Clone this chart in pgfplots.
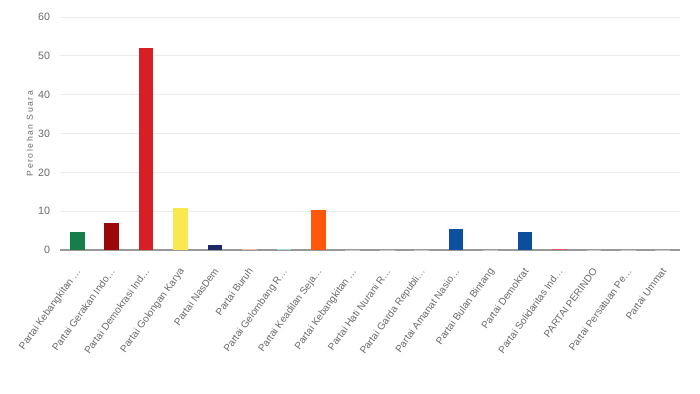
\documentclass[border=0pt]{standalone}
\usepackage{pgfplots}
\pgfplotsset{compat=1.18}
\usepackage{fontspec}
\setmainfont{Liberation Sans}
\definecolor{txt}{RGB}{105,105,105}
\definecolor{c1}{RGB}{22,125,75}
\definecolor{c2}{RGB}{155,8,10}
\definecolor{c3}{RGB}{214,32,38}
\definecolor{c4}{RGB}{250,232,80}
\definecolor{c5}{RGB}{30,40,105}
\definecolor{c6}{RGB}{240,190,165}
\definecolor{c7}{RGB}{160,220,222}
\definecolor{c8}{RGB}{255,88,10}
\definecolor{c9}{RGB}{200,200,200}
\definecolor{c12}{RGB}{14,80,160}
\definecolor{c14}{RGB}{12,77,158}
\definecolor{c15}{RGB}{225,85,95}
\newcommand{\el}{\char"2026}
\begin{document}
\begin{tikzpicture}
\begin{axis}[
  scale only axis,
  width=465pt, height=174.75pt,
  ybar, bar width=11pt, bar shift=0pt,
  xmin=-0.5, xmax=17.5, ymin=0, ymax=60,
  ytick={0,10,20,30,40,50,60},
  xtick={0,1,2,3,4,5,6,7,8,9,10,11,12,13,14,15,16,17},
  xticklabels={{Partai Kebangkitan \el},{Partai Gerakan Indo\el},{Partai Demokrasi Ind\el},{Partai Golongan Karya},{Partai NasDem},{Partai Buruh},{Partai Gelombang R\el},{Partai Keadilan Seja\el},{Partai Kebangkitan \el},{Partai Hati Nurani R\el},{Partai Garda Republi\el},{Partai Amanat Nasio\el},{Partai Bulan Bintang},{Partai Demokrat},{Partai Solidaritas Ind\el},{PARTAI PERINDO},{Partai Persatuan Pe\el},{Partai Ummat}},
  xticklabel style={xshift=-1.5pt, yshift=-12.5pt, rotate=54, anchor=north east, font=\fontsize{7.5}{9}\selectfont, text=txt, inner sep=0pt},
  yticklabel style={font=\fontsize{8}{9}\selectfont, text=txt, xshift=-4pt},
  /pgf/number format/assume math mode=true,
  major tick length=0pt,
  ymajorgrids, grid style={draw=black!8, line width=0.6pt},
  axis x line*=bottom, axis y line*=left,
  y axis line style={draw=none},
  x axis line style={draw=black!40, line width=1pt, -},
  ylabel={\addfontfeature{LetterSpace=18}Perolehan Suara},
  ylabel style={font=\fontsize{6.5}{8}\selectfont, text=txt, yshift=-3pt},
  every axis plot/.append style={draw=none},
  clip=false,
]
\addplot[fill=c1] coordinates {(0,4.6)};
\addplot[fill=c2] coordinates {(1,7.0)};
\addplot[fill=c3] coordinates {(2,52.1)};
\addplot[fill=c4] coordinates {(3,10.8)};
\addplot[fill=c5] coordinates {(4,1.3)};
\addplot[fill=c6] coordinates {(5,0.15)};
\addplot[fill=c7] coordinates {(6,0.25)};
\addplot[fill=c8] coordinates {(7,10.3)};
\addplot[fill=c9] coordinates {(8,0.05)};
\addplot[fill=c9] coordinates {(9,0.05)};
\addplot[fill=c9] coordinates {(10,0.05)};
\addplot[fill=c12] coordinates {(11,5.3)};
\addplot[fill=c9] coordinates {(12,0.05)};
\addplot[fill=c14] coordinates {(13,4.7)};
\addplot[fill=c15] coordinates {(14,0.3)};
\addplot[fill=c9] coordinates {(15,0.05)};
\addplot[fill=c9] coordinates {(16,0.05)};
\addplot[fill=c9] coordinates {(17,0.05)};
\end{axis}
\path[use as bounding box] ([shift={(-45pt,-107.25pt)}]current axis.south west) rectangle ([shift={(15pt,12.75pt)}]current axis.north east);
\end{tikzpicture}
\end{document}
